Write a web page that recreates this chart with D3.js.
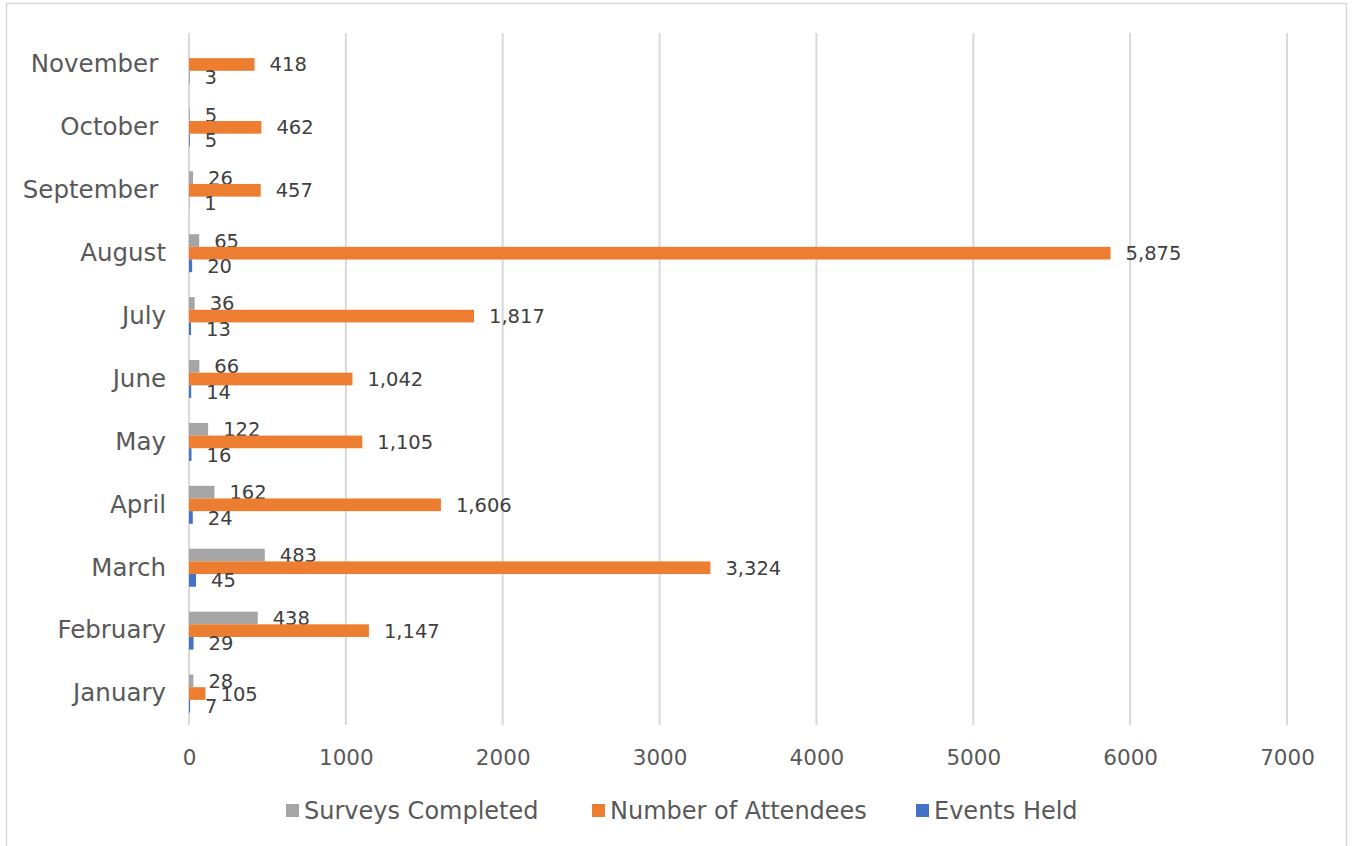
<!DOCTYPE html>
<html>
<head>
<meta charset="utf-8">
<script src="https://cdn.jsdelivr.net/npm/d3@7"></script>
<style>
  html, body { margin: 0; padding: 0; background: #fff; }
  svg { display: block; font-family: "DejaVu Sans", sans-serif; }
  text { white-space: pre; }
</style>
</head>
<body>
<svg id="chart" width="1352" height="846"></svg>
<script>
// Monthly outreach figures
const months = ["January", "February", "March", "April", "May", "June", "July", "August", "September ", "October ", "November "];
const surveysCompleted = [28, 438, 483, 162, 122, 66, 36, 65, 26, 5, null];
const numberOfAttendees = [105, 1147, 3324, 1606, 1105, 1042, 1817, 5875, 457, 462, 418];
const eventsHeld = [7, 29, 45, 24, 16, 14, 13, 20, 1, 5, 3];
const seriesNames = ["Surveys Completed", "Number of Attendees", "Events Held"];
const seriesColors = ["#A5A5A5", "#ED7D31", "#4472C4"];
const xTicks = [0, 1000, 2000, 3000, 4000, 5000, 6000, 7000];

const seriesValues = [surveysCompleted, numberOfAttendees, eventsHeld];
const textColor = "#595959";
const gridColor = "#D9D9D9";

const svg = d3.select("#chart");
const plot = { left: 189, right: 1287, top: 33, bottom: 725 };

// Outer frame
svg.append("rect")
  .attr("x", 6.5).attr("y", 3.5)
  .attr("width", 1340).attr("height", 870)
  .attr("fill", "none").attr("stroke", gridColor).attr("stroke-width", 1.5);

const x = d3.scaleLinear().domain([0, 7000]).range([plot.left, plot.right]);

// Categories run bottom (January) to top (November)
const y = d3.scaleBand()
  .domain(months.slice().reverse())
  .range([plot.top, plot.bottom])
  .paddingInner(0.396)
  .paddingOuter(0.198);

const ySeries = d3.scaleBand()
  .domain(seriesNames)
  .range([0, y.bandwidth()]);

// Vertical gridlines
svg.append("g")
  .selectAll("line")
  .data(xTicks)
  .join("line")
  .attr("x1", d => x(d)).attr("x2", d => x(d))
  .attr("y1", plot.top).attr("y2", plot.bottom)
  .attr("stroke", gridColor).attr("stroke-width", 2);

// X axis tick labels
const xAxis = d3.axisBottom(x).tickValues(xTicks).tickFormat(d3.format("d")).tickSize(0).tickPadding(0);
const gx = svg.append("g").attr("transform", `translate(0,${plot.bottom + 32})`).call(xAxis);
gx.select(".domain").remove();
gx.selectAll("text")
  .attr("dy", "0.35em")
  .attr("fill", textColor)
  .style("font-size", "21.5px")
  .style("font-family", "DejaVu Sans, sans-serif");

// Category labels
const yAxis = d3.axisLeft(y).tickSize(0).tickPadding(0);
const gy = svg.append("g").attr("transform", `translate(${plot.left - 23},0)`).call(yAxis);
gy.select(".domain").remove();
gy.selectAll("text")
  .attr("fill", textColor)
  .style("font-size", "24.5px")
  .style("font-family", "DejaVu Sans, sans-serif");

// Bars and value labels
const fmt = d3.format(",");
seriesNames.forEach((name, si) => {
  const rows = months.map((m, i) => ({ month: m, value: seriesValues[si][i] }))
    .filter(d => d.value != null);
  const g = svg.append("g");
  g.selectAll("rect")
    .data(rows)
    .join("rect")
    .attr("x", x(0))
    .attr("y", d => y(d.month) + ySeries(name))
    .attr("width", d => x(d.value) - x(0))
    .attr("height", ySeries.bandwidth())
    .attr("fill", seriesColors[si]);
  g.selectAll("text")
    .data(rows)
    .join("text")
    .attr("x", d => x(d.value) + 15)
    .attr("y", d => y(d.month) + ySeries(name) + ySeries.bandwidth() / 2)
    .attr("dy", "0.36em")
    .attr("fill", "#404040")
    .style("font-size", "19.5px")
    .text(d => fmt(d.value));
});

// Legend
const legendItems = [
  { name: seriesNames[0], color: seriesColors[0], x: 286 },
  { name: seriesNames[1], color: seriesColors[1], x: 592 },
  { name: seriesNames[2], color: seriesColors[2], x: 916 }
];
const lg = svg.append("g");
legendItems.forEach(it => {
  lg.append("rect")
    .attr("x", it.x).attr("y", 804)
    .attr("width", 13).attr("height", 13)
    .attr("fill", it.color);
  lg.append("text")
    .attr("x", it.x + 18).attr("y", 810.5)
    .attr("dy", "0.36em")
    .attr("fill", textColor)
    .style("font-size", "24px")
    .text(it.name);
});
</script>
</body>
</html>
